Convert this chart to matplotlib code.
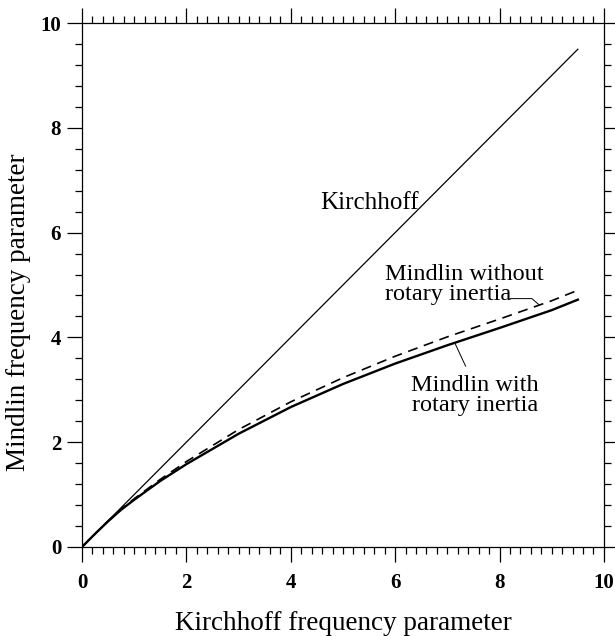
import numpy as np
import matplotlib.pyplot as plt
from matplotlib.ticker import MultipleLocator

# 読み取った値
kirch_x = [0, 9.5]
kirch_y = [0, 9.5]

mind_x = [0, 0.25, 0.5, 0.75, 1, 1.5, 2, 3, 4, 5, 6, 7, 8, 9, 9.5]
mind_rot = [0, 0.25, 0.49, 0.71, 0.90, 1.26, 1.58, 2.16, 2.67, 3.11, 3.5, 3.85, 4.18, 4.52, 4.72]
mind_norot = [0, 0.25, 0.49, 0.72, 0.92, 1.29, 1.63, 2.24, 2.77, 3.23, 3.64, 4.01, 4.35, 4.70, 4.90]

plt.rcParams['font.family'] = ['Liberation Serif', 'DejaVu Serif']

fig = plt.figure(figsize=(6.15, 6.36), dpi=100)
ax = fig.add_axes([0.1333, 0.140, 0.8487, 0.8238])

ax.plot(kirch_x, kirch_y, 'k-', lw=0.9)
ax.plot(mind_x, mind_rot, 'k-', lw=1.7)
ax.plot(mind_x, mind_norot, 'k-', lw=1.2, dashes=(6, 4))

ax.set_xlim(0, 10)
ax.set_ylim(0, 10)
ax.xaxis.set_major_locator(MultipleLocator(2))
ax.xaxis.set_minor_locator(MultipleLocator(0.2))
ax.yaxis.set_major_locator(MultipleLocator(2))
ax.yaxis.set_minor_locator(MultipleLocator(0.4))
ax.tick_params(which='both', direction='out', top=True, right=True,
               labeltop=False, labelright=False, width=0.9, color='k')
ax.tick_params(which='major', length=11, labelsize=15)
ax.tick_params(axis='x', which='major', pad=8)
ax.tick_params(axis='y', which='major', pad=4)
ax.tick_params(which='minor', length=5)
for lab in ax.get_xticklabels() + ax.get_yticklabels():
    lab.set_fontweight('bold')
for s in ax.spines.values():
    s.set_linewidth(0.9)

ax.set_xlabel('Kirchhoff frequency parameter', fontsize=19.5, va='baseline')
ax.set_ylabel('Mindlin frequency parameter', fontsize=19.5, va='center')
ax.xaxis.set_label_coords(0.5, -0.158)
ax.yaxis.set_label_coords(-0.122, 0.448)

# 注記
ax.text(4.56, 6.45, 'Kirchhoff', fontsize=18, ha='left', va='baseline')
ax.text(5.8, 5.4, 'Mindlin without\nrotary inertia', fontsize=17.5,
        ha='left', va='top', linespacing=0.95)
ax.plot([8.2, 8.62, 8.76], [4.74, 4.74, 4.62], 'k-', lw=0.7)
ax.text(7.53, 3.28, 'Mindlin with\nrotary inertia', fontsize=17.5,
        ha='center', va='top', linespacing=0.95)
ax.plot([7.15, 7.35], [3.88, 3.45], 'k-', lw=0.7)

fig.savefig('out.png', dpi=100)
